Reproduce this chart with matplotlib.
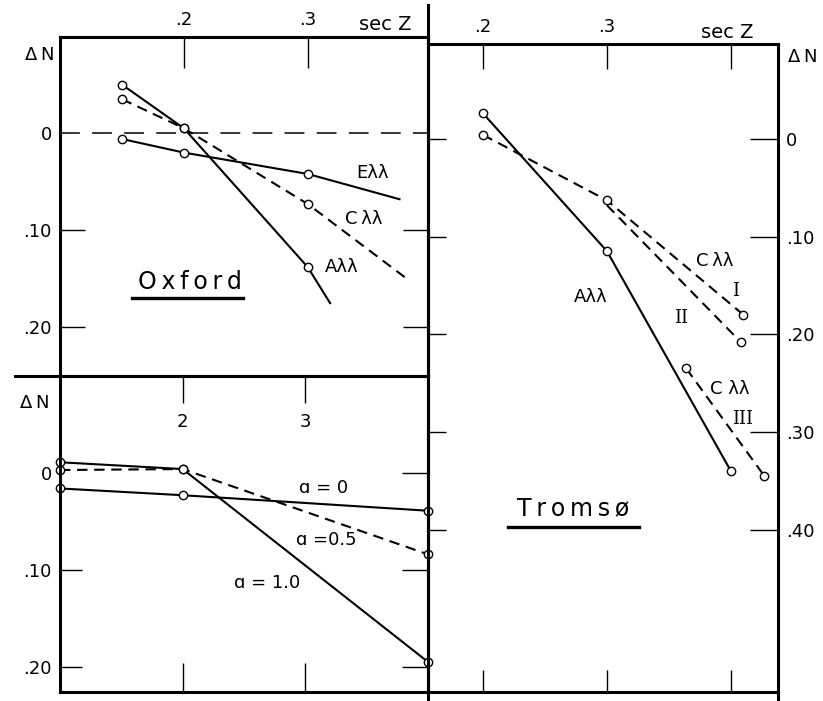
import matplotlib
matplotlib.use('Agg')
import matplotlib.pyplot as plt
from matplotlib.lines import Line2D

plt.rcParams['font.family'] = ['DejaVu Sans']

# Oxford panel (sec Z, Delta N positive downward)
ox_A_x = [0.15, 0.20, 0.30, 0.318]
ox_A = [-0.050, -0.005, 0.138, 0.175]
ox_C_x = [0.15, 0.20, 0.30, 0.379]
ox_C = [-0.035, -0.005, 0.073, 0.149]
ox_E_x = [0.15, 0.20, 0.30, 0.374]
ox_E = [0.006, 0.020, 0.042, 0.068]

# lower-left panel
bl_x = [1, 2, 4]
a0 = [0.016, 0.023, 0.039]
a05 = [-0.003, -0.004, 0.084]
a10 = [-0.011, -0.004, 0.195]

# Tromso panel
tr_A_x = [0.2, 0.3, 0.4]
tr_A = [-0.026, 0.115, 0.340]
tr_C1_x = [0.2, 0.3, 0.41]
tr_C1 = [-0.004, 0.063, 0.180]
tr_C2_x = [0.30, 0.408]
tr_C2 = [0.068, 0.208]
tr_C3_x = [0.364, 0.427]
tr_C3 = [0.235, 0.345]

W, H = 823, 701
fig = plt.figure(figsize=(W / 100, H / 100), dpi=100)


def box(x0, y0, x1, y1):
    return [x0 / W, 1 - y1 / H, (x1 - x0) / W, (y1 - y0) / H]


LW = 1.5
DASH = (0, (5, 3.2))
mk = dict(marker='o', ms=6, mfc='white', mec='black', mew=1.0, color='black', lw=LW, clip_on=False)
FS = 13
SP = '\u2009'


def frame(ax):
    for s in ax.spines.values():
        s.set_linewidth(2.2)
    ax.set_facecolor('none')


def tick_len(axis, first, second):
    # first = bottom/left, second = top/right (points)
    for t in axis.get_major_ticks():
        t.tick1line.set_markersize(first)
        t.tick2line.set_markersize(second)


# ---- Oxford ----
ax1 = fig.add_axes(box(60, 37, 428, 376))
frame(ax1)
ax1.set_xlim(0.1, 0.397)
ax1.set_ylim(0.25, -0.099)
ax1.plot(ox_A_x, ox_A, markevery=[0, 1, 2], **mk)
ax1.plot(ox_C_x, ox_C, markevery=[0, 1, 2], ls=DASH, **mk)
ax1.plot(ox_E_x, ox_E, markevery=[0, 1, 2], **mk)
ax1.axhline(0, color='black', lw=1.1, ls=(0, (13, 8)))
ax1.set_xticks([0.2, 0.3])
ax1.set_xticklabels(['.2', '.3'], fontsize=FS)
ax1.tick_params(axis='x', bottom=False, labelbottom=False, top=True, labeltop=True,
                direction='in', length=22, width=1, pad=6)
ax1.set_yticks([0, 0.1, 0.2])
ax1.set_yticklabels(['0', '.10', '.20'], fontsize=FS)
ax1.tick_params(axis='y', left=True, right=True, direction='in', length=18, width=1, pad=6)
ax1.yaxis.get_major_ticks()[0].tick1line.set_visible(False)
ax1.yaxis.get_major_ticks()[0].tick2line.set_visible(False)
ax1.text(0.352, 0.041, 'Eλλ', fontsize=FS, ha='center', va='center')
ax1.text(0.345, 0.088, 'C' + SP + 'λλ', fontsize=FS, ha='center', va='center')
ax1.text(0.327, 0.138, 'Aλλ', fontsize=FS, ha='center', va='center')
ax1.text(0.205, 0.153, SP.join('Oxford'), fontsize=17, ha='center', va='center')
ax1.plot([0.158, 0.248], [0.170, 0.170], color='black', lw=2.4)
fig.text(385 / W, 1 - 25 / H, 'sec Z', fontsize=14, ha='center', va='center')
fig.text(40 / W, 1 - 55 / H, 'Δ' + SP + 'N', fontsize=FS, ha='center', va='center')

# ---- lower left ----
ax2 = fig.add_axes(box(60, 376, 428, 692))
frame(ax2)
ax2.set_xlim(1, 4)
ax2.set_ylim(0.226, -0.1)
ax2.plot(bl_x, a0, **mk)
ax2.plot(bl_x, a05, ls=DASH, **mk)
ax2.plot(bl_x, a10, **mk)
ax2.set_xticks([2, 3])
ax2.set_xticklabels([])
ax2.tick_params(axis='x', bottom=True, top=True, direction='in', width=1)
tick_len(ax2.xaxis, 21, 19.5)
for xv, lab in zip([2, 3], ['2', '3']):
    ax2.text(xv, -0.053, lab, fontsize=FS, ha='center', va='center')
ax2.set_yticks([0, 0.1, 0.2])
ax2.set_yticklabels(['0', '.10', '.20'], fontsize=FS)
ax2.tick_params(axis='y', left=True, right=True, direction='in', width=1, pad=6)
tick_len(ax2.yaxis, 16, 19)
ax2.yaxis.get_major_ticks()[0].tick1line.set_visible(False)
ax2.text(3.15, 0.016, 'ɑ = 0', fontsize=FS, ha='center', va='center')
ax2.text(3.17, 0.069, 'ɑ =0.5', fontsize=FS, ha='center', va='center')
ax2.text(2.69, 0.114, 'ɑ = 1.0', fontsize=FS, ha='center', va='center')
fig.text(35 / W, 1 - 403 / H, 'Δ' + SP + 'N', fontsize=FS, ha='center', va='center')

# ---- Tromso ----
ax3 = fig.add_axes(box(428, 44, 778, 692))
frame(ax3)
ax3.set_xlim(0.1556, 0.438)
ax3.set_ylim(0.566, -0.097)
ax3.plot(tr_A_x, tr_A, **mk)
ax3.plot(tr_C1_x, tr_C1, ls=DASH, **mk)
ax3.plot(tr_C2_x, tr_C2, ls=DASH, markevery=[1], **mk)
ax3.plot(tr_C3_x, tr_C3, ls=DASH, **mk)
ax3.set_xticks([0.2, 0.3, 0.4])
ax3.set_xticklabels(['.2', '.3', ''], fontsize=FS)
ax3.tick_params(axis='x', bottom=True, top=True, labelbottom=False, labeltop=True,
                direction='in', width=1, pad=6)
tick_len(ax3.xaxis, 16, 18)
ax3.set_yticks([0, 0.1, 0.2, 0.3, 0.4])
ax3.set_yticklabels(['0', '.10', '.20', '.30', '.40'], fontsize=FS)
ax3.tick_params(axis='y', left=True, right=True, labelleft=False, labelright=True,
                direction='in', width=1, pad=6)
tick_len(ax3.yaxis, 13, 20)
ax3.text(0.387, 0.125, 'C' + SP + 'λλ', fontsize=FS, ha='center', va='center')
ax3.text(0.404, 0.156, 'I', fontsize=FS, ha='center', va='center', family='DejaVu Serif')
ax3.text(0.36, 0.183, 'II', fontsize=FS, ha='center', va='center', family='DejaVu Serif')
ax3.text(0.287, 0.162, 'Aλλ', fontsize=FS, ha='center', va='center')
ax3.text(0.399, 0.256, 'C λλ', fontsize=FS, ha='center', va='center')
ax3.text(0.409, 0.287, 'III', fontsize=FS, ha='center', va='center', family='DejaVu Serif')
ax3.text(0.273, 0.378, SP.join('Tromsø'), fontsize=17, ha='center', va='center')
ax3.plot([0.220, 0.326], [0.397, 0.397], color='black', lw=2.4)
fig.text(727 / W, 1 - 33 / H, 'sec Z', fontsize=14, ha='center', va='center')
fig.text(803 / W, 1 - 57 / H, 'Δ' + SP + 'N', fontsize=FS, ha='center', va='center')

# frame extensions
fig.add_artist(Line2D([428 / W, 428 / W], [1 - 5 / H, 1 - 700 / H], color='black', lw=2.2))
fig.add_artist(Line2D([15 / W, 60 / W], [1 - 376 / H, 1 - 376 / H], color='black', lw=2.2))
fig.add_artist(Line2D([778 / W, 778 / W], [1 - 692 / H, 1 - 700 / H], color='black', lw=2.2))

fig.savefig('out.png', dpi=100)
